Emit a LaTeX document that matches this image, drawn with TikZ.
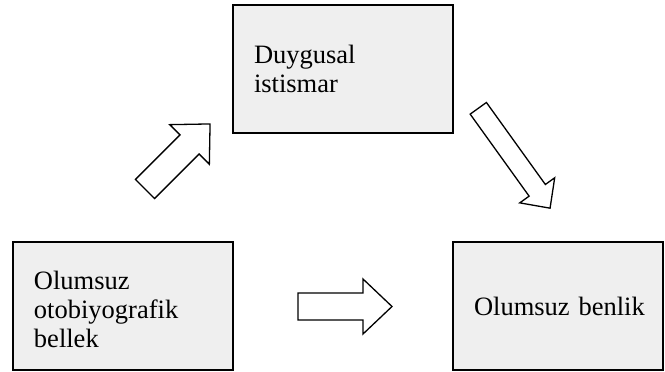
\documentclass[tikz,border=0pt]{standalone}
\usepackage{fontspec}
\setmainfont{Liberation Serif}
\definecolor{boxfill}{RGB}{239,239,239}
\begin{document}
\begin{tikzpicture}[x=1pt,y=-1pt,
  box/.style={draw=black, line width=1.6pt, fill=boxfill, rectangle,
    minimum height=128pt, inner xsep=21pt, inner ysep=0pt, align=left,
    font=\fontsize{26.5pt}{28.7pt}\selectfont},
  arrowline/.style={draw=black, line width=1.3pt, fill=white, line join=miter},
  pics/blockarrow/.style n args={4}{code={
    \draw[arrowline] (0,-#2/2) -- (#1-#4,-#2/2) -- (#1-#4,-#3/2) -- (#1,0)
      -- (#1-#4,#3/2) -- (#1-#4,#2/2) -- (0,#2/2) -- cycle;
  }}]
\useasboundingbox (0,0) rectangle (665,372);
\node[box, minimum width=220pt, text width=178pt] (abuse) at (343,69) {Duygusal\\istismar};
\node[box, minimum width=220pt, text width=178pt] (memory) at (123,306) {\rule{0pt}{25pt}Olumsuz\\otobiyografik\\bellek};
\node[box, minimum width=210pt, text width=168pt] (self) at (558,306) {\mbox{Olumsuz benlik}};
\coordinate (a1) at (145,189);
\coordinate (a2) at (478.3,108.3);
\coordinate (a3) at (298,306.5);
\pic[rotate=45] at (a1) {blockarrow={92}{27}{56}{29}};
\pic[rotate=-54.3] at (a2) {blockarrow={123}{20}{43}{22}};
\pic at (a3) {blockarrow={94}{27}{55}{29}};
\end{tikzpicture}
\end{document}
